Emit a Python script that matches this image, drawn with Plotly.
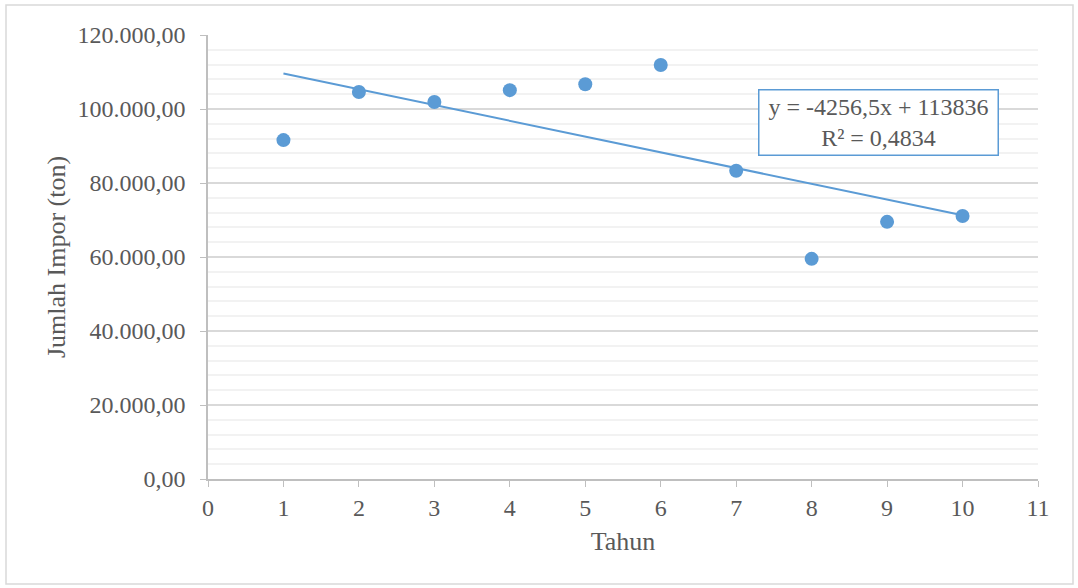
import plotly.graph_objects as go

tahun = [1, 2, 3, 4, 5, 6, 7, 8, 9, 10]
impor = [91600, 104600, 101900, 105100, 106700, 111900, 83300, 59500, 69500, 71100]
trend_slope = -4256.5
trend_intercept = 113836
trend_r2 = 0.4834
trend_x = [1, 10]
trend_y = [trend_slope * x + trend_intercept for x in trend_x]

blue = "#5B9BD5"
font_fam = "Liberation Serif, Times New Roman, serif"
grey_txt = "#595959"

fig = go.Figure()
fig.add_trace(go.Scatter(x=trend_x, y=trend_y, mode="lines",
                         line=dict(color=blue, width=2), showlegend=False, hoverinfo="skip"))
fig.add_trace(go.Scatter(x=tahun, y=impor, mode="markers",
                         marker=dict(color=blue, size=14), showlegend=False))

fig.update_layout(
    width=1078, height=588,
    margin=dict(l=208, r=40, t=35, b=109, autoexpand=False),
    paper_bgcolor="white", plot_bgcolor="white",
    separators=",.",
    font=dict(family=font_fam, size=24, color=grey_txt),
    xaxis=dict(range=[0, 11], dtick=1, tick0=0, showgrid=False,
               showline=True, linecolor="#bfbfbf", linewidth=1.5,
               ticks="outside", ticklen=6, tickcolor="#bfbfbf",
               tickfont=dict(size=24, color=grey_txt),
               title=dict(text="Tahun", font=dict(size=26, color=grey_txt), standoff=12),
               zeroline=False, fixedrange=True),
    yaxis=dict(range=[0, 120000], dtick=20000, tick0=0, tickformat=",.2f",
               showgrid=True, gridcolor="#d9d9d9", gridwidth=1.5,
               minor=dict(dtick=4000, showgrid=True, gridcolor="#f2f2f2", gridwidth=1.5),
               showline=True, linecolor="#bfbfbf", linewidth=1.5,
               ticks="outside", ticklen=6, tickcolor="#bfbfbf",
               tickfont=dict(size=24, color=grey_txt), ticklabelstandoff=10,
               title=dict(text="Jumlah Impor (ton)", font=dict(size=26, color=grey_txt), standoff=4),
               zeroline=False, fixedrange=True),
)

eq_text = f"y = {trend_slope:.1f}x + {trend_intercept}".replace(".", ",") + "<br>" + \
          f"R² = {trend_r2:.4f}".replace(".", ",")
fig.add_annotation(x=(878 - 208) / 830, y=(479 - 122) / 444, xref="paper", yref="paper",
                   xanchor="center", yanchor="middle",
                   text=eq_text, showarrow=False, align="center",
                   font=dict(family=font_fam, size=24, color=grey_txt),
                   bordercolor=blue, borderwidth=1.5, borderpad=3, bgcolor="white",
                   width=232, height=58)

# outer chart border
fig.add_shape(type="rect", xref="paper", yref="paper",
              x0=(6 - 208) / 830, x1=(1073 - 208) / 830,
              y0=(479 - 584) / 444, y1=(479 - 5) / 444,
              line=dict(color="#d9d9d9", width=1.5), layer="below")

fig.write_html("out.html", config={"displayModeBar": False},
               post_script="document.body.style.margin='0';document.body.style.overflow='hidden';")
